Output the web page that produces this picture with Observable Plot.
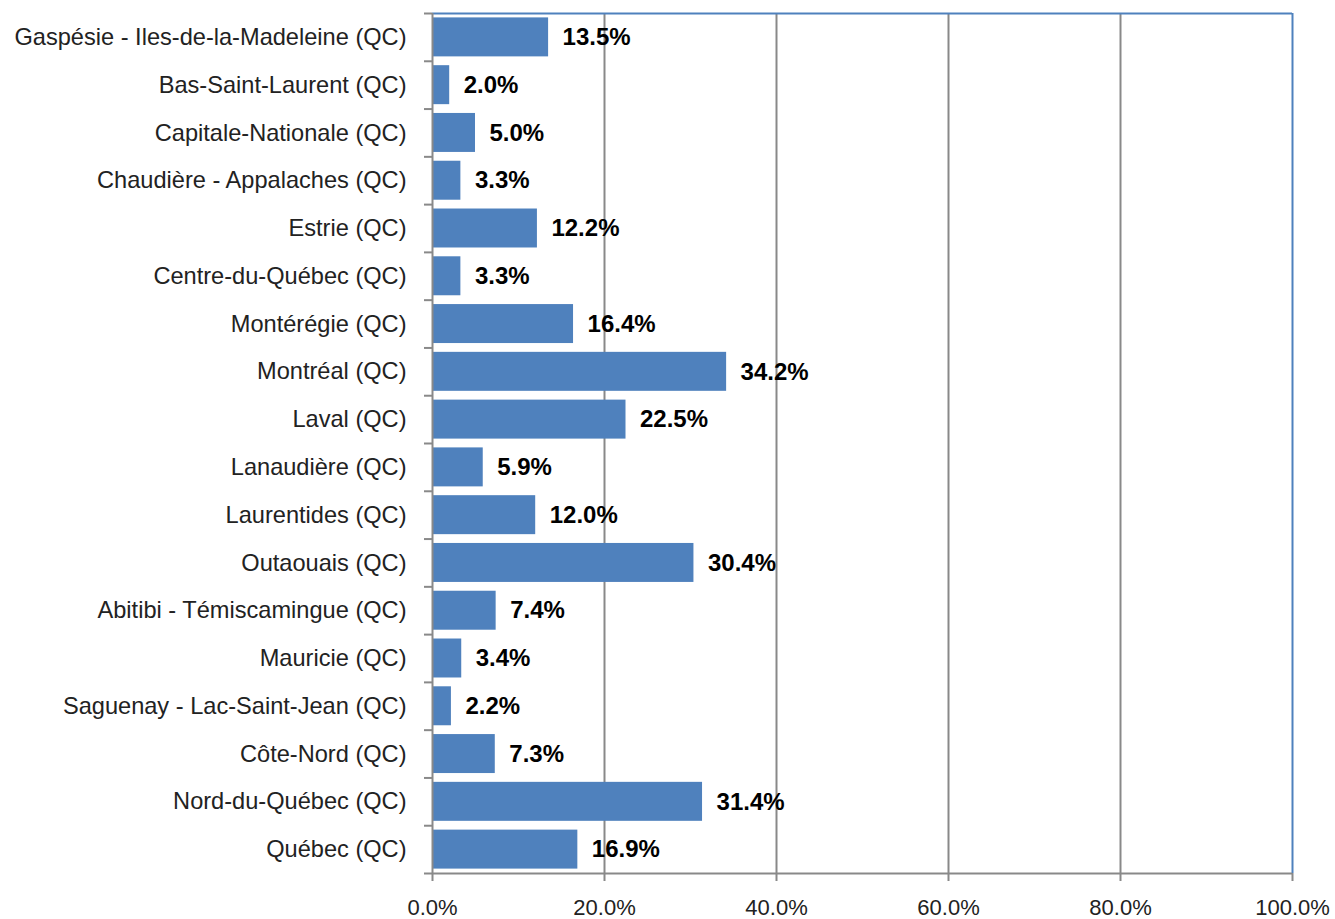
<!DOCTYPE html>
<html>
<head>
<meta charset="utf-8">
<script src="https://cdn.jsdelivr.net/npm/d3@7"></script>
<script src="https://cdn.jsdelivr.net/npm/@observablehq/plot@0.6"></script>
<style>
  html, body { margin: 0; padding: 0; background: #fff; overflow: hidden; }
  #chart svg { display: block; }
</style>
</head>
<body>
<div id="chart"></div>
<script>
const regions = [
  "Gaspésie - Iles-de-la-Madeleine (QC)",
  "Bas-Saint-Laurent (QC)",
  "Capitale-Nationale (QC)",
  "Chaudière - Appalaches (QC)",
  "Estrie (QC)",
  "Centre-du-Québec (QC)",
  "Montérégie (QC)",
  "Montréal (QC)",
  "Laval (QC)",
  "Lanaudière (QC)",
  "Laurentides (QC)",
  "Outaouais (QC)",
  "Abitibi - Témiscamingue (QC)",
  "Mauricie (QC)",
  "Saguenay - Lac-Saint-Jean (QC)",
  "Côte-Nord (QC)",
  "Nord-du-Québec (QC)",
  "Québec (QC)"
];
const values = [13.5, 2.0, 5.0, 3.3, 12.2, 3.3, 16.4, 34.2, 22.5, 5.9, 12.0, 30.4, 7.4, 3.4, 2.2, 7.3, 31.4, 16.9];
const xTicks = [0, 20, 40, 60, 80, 100];
const gridTicks = [20, 40, 60, 80];

const data = regions.map((r, i) => ({region: r, value: values[i]}));

const W = 1335, H = 919;
const mTop = 13, mBottom = 46, mLeft = 432, mRight = 43;
const step = (H - mTop - mBottom) / regions.length;
const gray = "#898989";
const blue = "#4f81bd";
const font = "Liberation Sans, Arial, sans-serif";

const chart = Plot.plot({
  width: W,
  height: H,
  marginTop: mTop,
  marginBottom: mBottom,
  marginLeft: mLeft,
  marginRight: mRight,
  style: {fontFamily: font, color: "#000", background: "#fff"},
  x: {domain: [0, 100]},
  y: {domain: regions, padding: 0, round: false},
  marks: [
    Plot.ruleX(gridTicks, {stroke: gray, strokeWidth: 2}),
    Plot.ruleX([100], {stroke: blue, strokeWidth: 2}),
    Plot.ruleY([regions[0]], {stroke: blue, strokeWidth: 2, dy: -step / 2}),
    Plot.barX(data, {x: "value", y: "region", fill: blue, insetTop: 4.4, insetBottom: 4.4}),
    Plot.ruleX([0], {stroke: gray, strokeWidth: 2}),
    Plot.ruleY([regions[regions.length - 1]], {stroke: gray, strokeWidth: 2, dy: step / 2}),
    Plot.text(data, {
      x: "value", y: "region",
      text: d => d.value.toFixed(1) + "%",
      textAnchor: "start", dx: 14,
      fontSize: 24, fontWeight: "bold", fill: "#000"
    }),
    Plot.axisY({tickSize: 0, tickPadding: 26, fontSize: 23.6, fill: "#222", label: null}),
    Plot.axisY({tickSize: 8, tickFormat: () => "", dy: step / 2, stroke: gray, strokeWidth: 2, label: null}),
    Plot.axisY({ticks: [regions[0]], tickSize: 8, tickFormat: () => "", dy: -step / 2, stroke: gray, strokeWidth: 2, label: null}),
    Plot.axisX({ticks: xTicks, tickFormat: d => d.toFixed(1) + "%", tickSize: 8, tickPadding: 18, fontSize: 22, stroke: gray, strokeWidth: 2, fill: "#222", label: null})
  ]
});

document.getElementById("chart").appendChild(chart);
</script>
</body>
</html>
